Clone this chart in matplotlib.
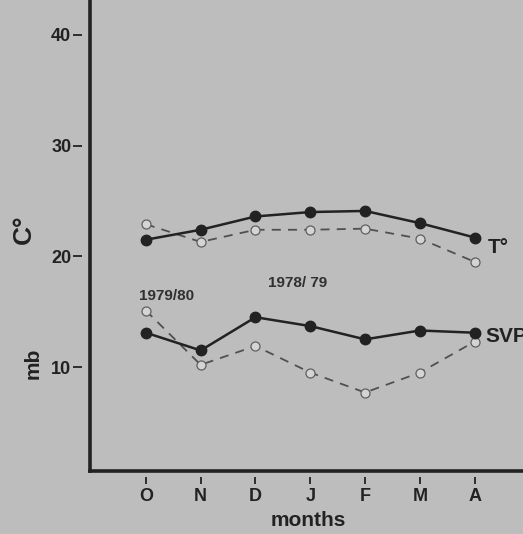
import matplotlib
matplotlib.use("Agg")
import matplotlib.pyplot as plt

months = ["O", "N", "D", "J", "F", "M", "A"]

# Air temperature (°C)
temp_1978_79 = [21.5, 22.4, 23.6, 24.0, 24.1, 23.0, 21.7]
temp_1979_80 = [22.9, 21.3, 22.4, 22.4, 22.5, 21.6, 19.5]

# Saturation vapour pressure (mb)
svp_1978_79 = [13.1, 11.5, 14.5, 13.7, 12.5, 13.3, 13.1]
svp_1979_80 = [15.1, 10.2, 11.9, 9.5, 7.7, 9.5, 12.3]

y_ticks = [10, 20, 30, 40]

BG = "#bdbdbd"
INK = "#222222"
GREY = "#505050"
FONT = "Liberation Sans"

W, H = 523, 534
AX_W, AX_H = 0.9, 0.9
fig = plt.figure(figsize=(W / 100, H / 100), dpi=100, facecolor=BG)
ax = fig.add_axes([90 / W, 1 - 471 / H, AX_W, AX_H], facecolor=BG)
ax_wpx, ax_hpx = AX_W * W, AX_H * H

x = list(range(len(months)))

solid = dict(color=INK, lw=1.8, marker="o", ms=7.5, mfc=INK, mec=INK, zorder=3)
dashed = dict(color=GREY, lw=1.3, ls=(0, (5, 4)), marker="o", ms=6.5,
              mfc="#d4d4d4", mec="#606060", mew=0.9, zorder=2)

ax.plot(x, temp_1979_80, **dashed)
ax.plot(x, temp_1978_79, **solid)
ax.plot(x, svp_1979_80, **dashed)
ax.plot(x, svp_1978_79, **solid)

ax.set_xlim(-1.02, 7.57)
ax.set_ylim(0.61, 44.02)

for s in ("top", "right"):
    ax.spines[s].set_visible(False)
for s in ("left", "bottom"):
    ax.spines[s].set_linewidth(2.6)
    ax.spines[s].set_color(INK)

# tick labels; the short tick dashes sit a little apart from the axis lines
ax.set_xticks(x)
ax.set_xticklabels(months, fontsize=13, fontweight="bold", family=FONT, color=INK)
ax.set_yticks(y_ticks)
ax.set_yticklabels([str(v) for v in y_ticks], fontsize=13, fontweight="bold",
                   family=FONT, color=INK)
ax.tick_params(axis="x", length=0, pad=12)
ax.tick_params(axis="y", length=0, pad=13.5)

xt = ax.get_xaxis_transform()
for xi in x:
    ax.plot([xi, xi], [-6 / ax_hpx, -13 / ax_hpx], color=INK, lw=1.3,
            transform=xt, clip_on=False, solid_capstyle="butt")
yt = ax.get_yaxis_transform()
for yv in y_ticks:
    ax.plot([-8 / ax_wpx, -17 / ax_wpx], [yv, yv], color=INK, lw=1.3,
            transform=yt, clip_on=False, solid_capstyle="butt")

ax.text(0.37, 16.4, "1979/80", fontsize=11, fontweight="bold", family=FONT,
        color="#303030", ha="center", va="center")
ax.text(2.77, 17.6, "1978/ 79", fontsize=11, fontweight="bold", family=FONT,
        color="#303030", ha="center", va="center")
ax.text(6.24, 20.8, "T°", fontsize=15, fontweight="bold", family=FONT,
        color=INK, ha="left", va="center")
ax.text(6.2, 12.8, "SVP", fontsize=15, fontweight="bold", family=FONT,
        color=INK, ha="left", va="center")

fig.text(24 / W, 1 - 229 / H, "C°", rotation=90, fontsize=19, family=FONT,
         fontweight="bold", color=INK, ha="center", va="center")
fig.text(33 / W, 1 - 363 / H, "mb", rotation=90, fontsize=15, family=FONT,
         fontweight="bold", color=INK, ha="center", va="center")
fig.text(308 / W, 1 - 520 / H, "months", fontsize=15, family=FONT,
         fontweight="bold", color=INK, ha="center", va="center")

fig.savefig("out.png", dpi=100, facecolor=BG)
